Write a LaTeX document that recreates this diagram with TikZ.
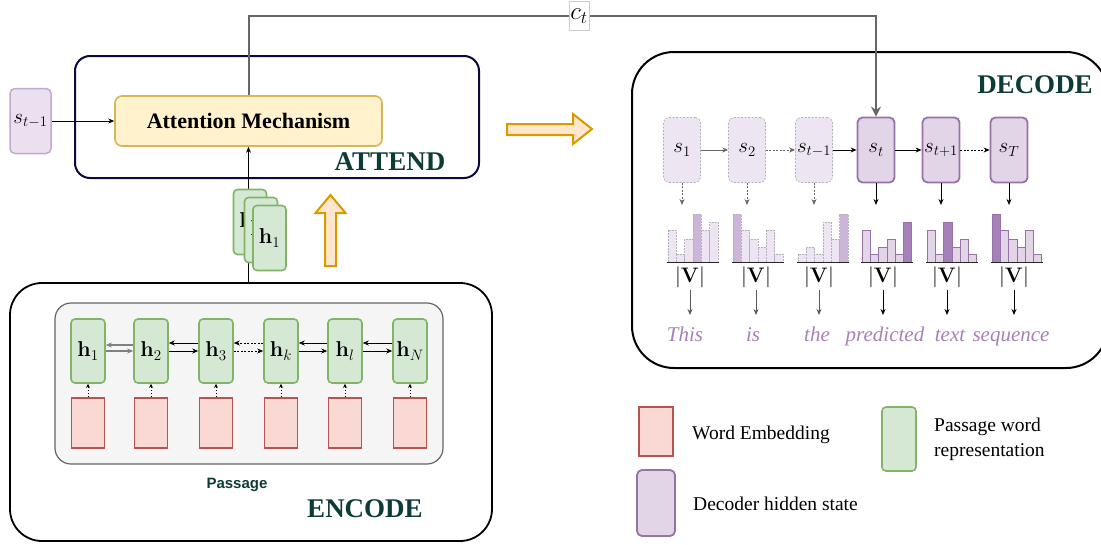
\documentclass[tikz,border=0pt]{standalone}
\usepackage{fix-cm}
\usepackage[no-math]{fontspec}
\setmainfont{Liberation Serif}
\newfontfamily\labelsans{Liberation Sans}
\usetikzlibrary{arrows.meta}

\definecolor{greenfill}{HTML}{D5E8D4}
\definecolor{greenline}{HTML}{82B366}
\definecolor{redfill}{HTML}{FAD9D5}
\definecolor{redline}{HTML}{B85450}
\definecolor{purplefill}{HTML}{E1D5E7}
\definecolor{purpleline}{HTML}{9673A6}
\definecolor{purpledark}{HTML}{A680B8}
\definecolor{fadefill}{HTML}{EDE5F1}
\definecolor{fadeline}{HTML}{B8AFBE}
\definecolor{fadedark}{HTML}{CBB6D8}
\definecolor{yellowfill}{HTML}{FFF2CC}
\definecolor{yellowline}{HTML}{D6B656}
\definecolor{orangefill}{HTML}{FFE6CC}
\definecolor{orangeline}{HTML}{D79B00}
\definecolor{headteal}{HTML}{0D3B38}
\definecolor{navyline}{HTML}{0A0A3C}
\definecolor{passfill}{HTML}{F5F5F5}
\definecolor{passline}{HTML}{666666}
\definecolor{ctgray}{HTML}{666666}
\definecolor{wordpurple}{HTML}{A680B8}
\definecolor{prevfill}{HTML}{EAE0EF}
\definecolor{prevline}{HTML}{C2A9CF}

\newcommand\setfs[1]{\fontsize{#1}{#1}\selectfont}

% six-bar distribution: left x, heights, index of the peak bar, its height, bar style, peak style
\newcommand\histbars[6]{%
  \foreach \hgt [count=\j from 0] in {#2}
    \draw[#5] ({#1+\j*8.3},262) rectangle ++(8.3,-\hgt);
  \draw[#6] ({#1+#3*8.3},262) rectangle ++(8.3,-#4);
  \draw[line width=0.9pt, black!85] ({#1-1},262) -- ({#1+51},262);
}

\tikzset{
  hidden/.style={draw=greenline, fill=greenfill, line width=1.6pt, rounded corners=4pt,
    minimum width=34pt, minimum height=64pt, inner sep=0pt, font=\setfs{21.5}},
  embed/.style={draw=redline, fill=redfill, line width=1.6pt,
    minimum width=33pt, minimum height=50pt, inner sep=0pt},
  decstate/.style={draw=purpleline, fill=purplefill, line width=1.8pt, rounded corners=5pt,
    minimum width=37pt, minimum height=65pt, inner sep=0pt, font=\setfs{21}},
  decfaded/.style={decstate, draw=fadeline, fill=fadefill, line width=0.7pt,
    dash pattern=on 2pt off 1.5pt},
  arr/.style={-{Stealth[length=6pt,width=5pt]}, line width=0.8pt},
  dotarr/.style={arr, dash pattern=on 2pt off 1.5pt},
  tinyarr/.style={-{Stealth[length=4pt,width=4pt]}, line width=0.7pt, dash pattern=on 1.5pt off 1.5pt},
  ctarr/.style={-{Stealth[length=10pt,width=10pt]}, line width=2pt, draw=ctgray},
  head/.style={font=\bfseries\setfs{27}, text=headteal},
  legend/.style={font=\setfs{19.5}, anchor=west, inner sep=0pt},
  word/.style={font=\itshape\setfs{21}, text=wordpurple, anchor=base, inner sep=0pt},
  vlabel/.style={font=\setfs{21}, inner sep=2pt},
  bigarrow/.style={draw=orangeline, fill=orangefill, line width=2pt},
  fadelo/.style={fill=fadefill, draw=fadeline, line width=0.6pt, dash pattern=on 2pt off 1pt},
  fadehi/.style={fadelo, fill=fadedark},
  actlo/.style={fill=purplefill, draw=purpleline, line width=0.8pt},
  acthi/.style={actlo, fill=purpledark},
}

\begin{document}
\begin{tikzpicture}[x=1pt, y=-1pt]
\useasboundingbox (0,0) rectangle (1101,544);

% ---------- ATTEND ----------
\node[draw=navyline, line width=2pt, rounded corners=15pt,
      minimum width=404pt, minimum height=122pt] (attend) at (277,117) {};
\node[draw=yellowline, fill=yellowfill, line width=1.6pt, rounded corners=7pt,
      minimum width=267pt, minimum height=50pt, font=\bfseries\setfs{22}]
      (attn) at (248.5,121) {Attention Mechanism};
\node[head] (attendlbl) at (390,162) {ATTEND};
\node[draw=prevline, fill=prevfill, line width=1.5pt, rounded corners=5pt,
      minimum width=41pt, minimum height=65pt, inner sep=0pt, font=\setfs{21}]
      (sprev) at (30.5,121) {$s_{t-1}$};
\draw[arr] (sprev.east) -- (attn.west);

% ---------- ENCODE ----------
\node[draw, line width=1.8pt, rounded corners=32pt,
      minimum width=482pt, minimum height=258pt] (encode) at (251,412) {};
\node[draw=passline, fill=passfill, line width=1.2pt, rounded corners=16pt,
      minimum width=388pt, minimum height=161pt] (passage) at (249,383.5) {};
\node[font=\labelsans\bfseries\setfs{15}, text=headteal] (passlbl) at (237,485) {Passage};
\node[head] (enclbl) at (365,509) {ENCODE};

\node[hidden] (h1) at (88,351)  {$\mathbf{h}_1$};
\node[hidden] (h2) at (151,351) {$\mathbf{h}_2$};
\node[hidden] (h3) at (216,351) {$\mathbf{h}_3$};
\node[hidden] (hk) at (281,351) {$\mathbf{h}_k$};
\node[hidden] (hl) at (345,351) {$\mathbf{h}_l$};
\node[hidden] (hN) at (410,351) {$\mathbf{h}_N$};

\foreach \x/\n in {88/1,151/2,216/3,281/k,345/l,410/N}{
  \node[embed] (e\n) at (\x,423) {};
  \draw[tinyarr] (e\n) -- (h\n);
}

% bidirectional links between passage states
\draw[arr, gray, line width=1.3pt] ([yshift=6pt]h2.west) -- ([yshift=6pt]h1.east);
\draw[arr, gray, line width=1.3pt] (h1.east) -- (h2.west);
\draw[arr] ([yshift=8pt]h3.west) -- ([yshift=8pt]h2.east);
\draw[arr] (h2.east) -- (h3.west);
\draw[dotarr] ([yshift=8pt]hk.west) -- ([yshift=8pt]h3.east);
\draw[dotarr] (h3.east) -- (hk.west);
\draw[arr] ([yshift=8pt]hl.west) -- ([yshift=8pt]hk.east);
\draw[arr] (hk.east) -- (hl.west);
\draw[arr] ([yshift=8pt]hN.west) -- ([yshift=8pt]hl.east);
\draw[arr] (hl.east) -- (hN.west);

% passage states fed to the attention
\draw[arr] (attn.south |- encode.north) -- (attn.south);
\node[hidden, minimum width=33pt, minimum height=65pt] (hs1) at (250,222) {$\mathbf{h}_1$};
\node[hidden, minimum width=33pt, minimum height=65pt] (hs2) at (261,230) {$\mathbf{h}_1$};
\node[hidden, minimum width=33pt, minimum height=65pt] (hs3) at (269.5,238) {$\mathbf{h}_1$};

% flow arrows
\draw[bigarrow] (325,266) -- (325,213) -- (315.5,213) -- (330.5,195)
  -- (345.5,213) -- (336,213) -- (336,266) -- cycle;
\draw[bigarrow] (507,124) -- (573,124) -- (573,114) -- (592,129)
  -- (573,144) -- (573,135) -- (507,135) -- cycle;

% ---------- DECODE ----------
\node[draw, line width=2pt, rounded corners=42pt,
      minimum width=476pt, minimum height=316pt] (decode) at (870,210) {};
\node[head] (declbl) at (1035,85) {DECODE};

\node[decfaded] (s1) at (682,150)  {$s_1$};
\node[decfaded] (s2) at (747,150)  {$s_2$};
\node[decfaded] (s3) at (814,150)  {$s_{t-1}$};
\node[decstate] (s4) at (876,150)  {$s_t$};
\node[decstate] (s5) at (941,150)  {$s_{t+1}$};
\node[decstate] (s6) at (1009,150) {$s_T$};

\draw[arr, black!60] (s1) -- (s2);
\draw[dotarr, black!60] (s2) -- (s3);
\draw[arr] (s3) -- (s4);
\draw[arr] (s4) -- (s5);
\draw[dotarr] (s5) -- (s6);

% context vector
\coordinate (ctrow) at (579,16);
\draw[ctarr] (attn.north) |- (s4.north |- ctrow) -- (s4.north);
\node[draw=black!20, fill=white, line width=0.6pt, minimum width=20pt, minimum height=29pt,
      inner sep=0pt, font=\setfs{25}] (ct) at (ctrow) {$c_t$};

% output distributions
\foreach \x/\n in {682/1,747/2,814/3,876/4,941/5,1009/6}
  \coordinate (t\n) at (\x,205);
\draw[dotarr, black!60] (s1) -- (t1);
\draw[dotarr, black!60] (s2) -- (t2);
\draw[dotarr, black!60] (s3) -- (t3);
\draw[arr] (s4) -- (t4);
\draw[arr] (s5) -- (t5);
\draw[arr] (s6) -- (t6);

\histbars{668}{32,8,23,48,32,40}{3}{48}{fadelo}{fadehi}
\histbars{733}{48,32,23,15,32,8}{0}{48}{fadelo}{fadehi}
\histbars{798}{8,15,8,40,23,48}{5}{48}{fadelo}{fadehi}
\histbars{862}{32,8,15,23,8,40}{5}{40}{actlo}{acthi}
\histbars{927}{32,8,40,15,23,8}{2}{40}{actlo}{acthi}
\histbars{992}{48,32,23,15,32,8}{0}{48}{actlo}{acthi}

\foreach \x/\n in {690/1,756/2,819/3,883/4,947/5,1014/6}
  \node[vlabel] (v\n) at (\x,277) {$|\mathbf{V}|$};

\node[word] (w1) at (685,341)  {This};
\node[word] (w2) at (753,341)  {is};
\node[word] (w3) at (817,341)  {the};
\node[word] (w4) at (885,341)  {predicted};
\node[word] (w5) at (950,341)  {text};
\node[word] (w6) at (1011,341) {sequence};

\coordinate (wordtop) at (0,315);
\foreach \n in {1,2,3}
  \draw[arr, black!65] (v\n.south) -- (v\n.south |- wordtop);
\foreach \n in {4,5,6}
  \draw[arr] (v\n.south) -- (v\n.south |- wordtop);

% ---------- legend ----------
\node[embed, minimum width=34pt, minimum height=49pt] (legE) at (656,431.5) {};
\node[legend] (legEt) at (692,435) {Word Embedding};
\node[hidden, minimum width=34pt, minimum height=64pt] (legH) at (899,439) {};
\node[legend, align=left, font=\fontsize{19.5}{25}\selectfont] (legHt) at (934,439)
  {Passage word\\representation};
\node[decstate, minimum width=38pt, minimum height=66pt] (legS) at (656,503) {};
\node[legend] (legSt) at (693,504) {Decoder hidden state};
\end{tikzpicture}
\end{document}
